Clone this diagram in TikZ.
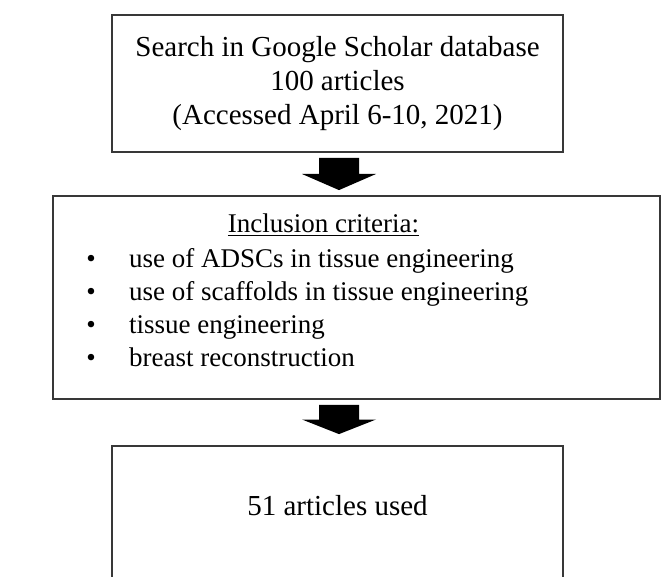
\documentclass[tikz,border=0pt]{standalone}
\usepackage{fontspec}
\setmainfont{Liberation Serif}
\usetikzlibrary{calc,positioning}

\def\fatarrow(#1)(#2){\fill[black] ($(#1)+(-20,0)$) -- ($(#1)+(20,0)$) -- ($(#1)!0.5!(#2)+(20,0)$) -- ($(#1)!0.5!(#2)+(37,0)$) -- (#2) -- ($(#1)!0.5!(#2)+(-37,0)$) -- ($(#1)!0.5!(#2)+(-20,0)$) -- cycle;}

\tikzset{
	box/.style={draw=black!78, line width=1.8pt, rectangle, inner sep=0pt},
	txt/.style={inner sep=0pt, font=\fontsize{27}{33}\selectfont},
	bigtxt/.style={inner sep=0pt, font=\fontsize{29}{34}\selectfont},
}

\begin{document}
\begin{tikzpicture}[x=1pt, y=1pt]
			%%%%% START %%%%%
			\clip (0, 0) rectangle (661, 576);
			
			\node[box, bigtxt, minimum width=451pt, minimum height=137pt, align=center] (search) at (337.5, 492.5) {Search in Google Scholar database\\100 articles\\(Accessed April 6-10, 2021)};
			
			\node[box, minimum width=607pt, minimum height=203pt] (crit) at (356.5, 278.5) {};
			\node[txt, anchor=base] (crittitle) at (323.5, 343) {\underline{Inclusion criteria:}};
			
			\node[txt, anchor=base] (b1) at (91, 308) {\textbullet};
			\node[txt, anchor=base west] (c1) at (129, 308) {use of ADSCs in tissue engineering};
			\node[txt, anchor=base] (b2) at (91, 275) {\textbullet};
			\node[txt, anchor=base west] (c2) at (129, 275) {use of scaffolds in tissue engineering};
			\node[txt, anchor=base] (b3) at (91, 242) {\textbullet};
			\node[txt, anchor=base west] (c3) at (129, 242) {tissue engineering};
			\node[txt, anchor=base] (b4) at (91, 209) {\textbullet};
			\node[txt, anchor=base west] (c4) at (129, 209) {breast reconstruction};
			
			\node[box, minimum width=451pt, minimum height=160pt] (used) at (337.5, 50) {};
			\node[bigtxt, anchor=base] (usedtext) at (337.5, 61) {51 articles used};
			
			\coordinate (a1top) at ($(search.south)+(1.5,-5)$);
			\coordinate (a1tip) at ($(a1top |- crit.north)+(0,5)$);
			\coordinate (a2top) at ($(a1top |- crit.south)+(0,-5)$);
			\coordinate (a2tip) at ($(a1top |- used.north)+(0,11)$);
			
			\fatarrow(a1top)(a1tip)
			\fatarrow(a2top)(a2tip)
			
			%%%%% END %%%%%
\end{tikzpicture}
\end{document}
